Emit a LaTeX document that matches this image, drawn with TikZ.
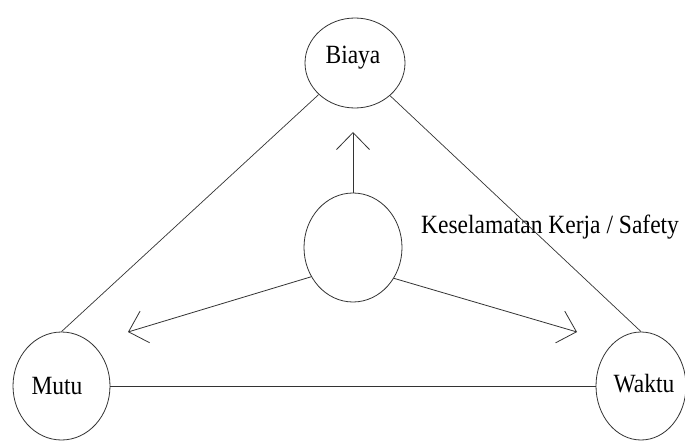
\documentclass[tikz,border=0pt]{standalone}
\usepackage{fontspec}
\setmainfont{Liberation Serif}
\usetikzlibrary{shapes.geometric,arrows.meta}
\tikzset{
  ring/.style={draw=black!80, line width=0.8pt, ellipse, inner sep=0pt},
  link/.style={draw=black!80, line width=0.7pt},
  pointer/.style={draw=black!80, line width=0.8pt, -{Straight Barb[length=17pt,width=33pt,line width=0.8pt]}},
  lbl/.style={inner sep=0pt, font=\fontsize{23.5}{28}\selectfont}
}
\newcommand{\tall}[1]{\scalebox{1}[1.12]{#1}}
\begin{document}
\begin{tikzpicture}[x=1pt,y=-1pt]
\useasboundingbox (0,0) rectangle (685,441);
\fill[white] (0,0) rectangle (685,441);
\node[ring, minimum width=100pt, minimum height=90pt] (biaya) at (355,63) {};
\node[ring, minimum width=98pt, minimum height=109pt] (safe) at (353,247.5) {};
\node[ring, minimum width=97pt, minimum height=108pt] (mutu) at (61.5,386) {};
\node[ring, minimum width=90pt, minimum height=108pt] (waktu) at (641,386) {};
\node[lbl, anchor=base] (tb) at (353,63.3) {\tall{Biaya}};
\node[lbl, anchor=base] (tm) at (57,394) {\tall{Mutu}};
\node[lbl, anchor=base] (tw) at (644,392) {\tall{Waktu}};
\node[lbl, anchor=base west] (ts) at (421,233) {\tall{Keselamatan Kerja / Safety}};
\coordinate (up) at (353,132);
\coordinate (lt) at (128,332);
\coordinate (rt) at (577,332);
\draw[link] (biaya.221) -- (mutu.north);
\draw[link] (biaya.317) -- (waktu.north);
\draw[link, line width=1pt] (mutu.east) -- (waktu.west);
\draw[pointer] (safe.north) -- (up);
\draw[pointer] (safe.215) -- (lt);
\draw[pointer] (safe.323) -- (rt);
\end{tikzpicture}
\end{document}
